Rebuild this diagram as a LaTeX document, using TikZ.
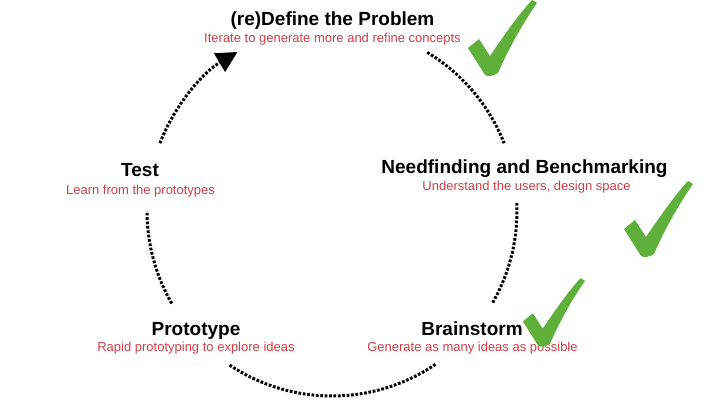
\documentclass[tikz,border=0pt]{standalone}
\usepackage{fontspec}
\setmainfont{Liberation Sans}
\usetikzlibrary{arrows.meta}

\definecolor{notered}{RGB}{208,62,70}
\definecolor{tickgreen}{RGB}{94,176,58}

\begin{document}
\begin{tikzpicture}[
    x=1pt,
    y=1pt,
    stage/.style={anchor=base, inner sep=0pt, font=\fontsize{19}{19}\selectfont\bfseries},
    note/.style={anchor=base, inner sep=0pt, text=notered, font=\fontsize{13}{13}\selectfont},
    flow/.style={line width=3pt, dash pattern=on 2.7pt off 1.7pt},
    checkmark/.pic={
        \fill[tickgreen] (-2,-3) -- (-19,24) -- (-8,33) -- (3,16)
            .. controls (18,38) and (32,58) .. (45,72) -- (50,69)
            .. controls (34,46) and (20,20) .. (11,-1)
            .. controls (6,-4) and (1,-5) .. cycle;
    }
]
\useasboundingbox (0,0) rectangle (720,405);

\coordinate (c) at (332,194);

\node[stage] (define) at (332.5,379) {(re)Define the Problem};
\node[note] (definenote) at (332.5,362.5) {Iterate to generate more and refine concepts};

\node[stage] (need) at (524.5,231.7) {Needfinding and Benchmarking};
\node[note] (neednote) at (526.5,214.3) {Understand the users, design space};

\node[stage] (test) at (140,229) {Test};
\node[note] (testnote) at (140.5,211) {Learn from the prototypes};

\node[stage] (proto) at (196,70) {Prototype};
\node[note] (protonote) at (196,53.3) {Rapid prototyping to explore ideas};

\node[stage] (brain) at (472,70) {Brainstorm};
\node[note] (brainnote) at (472.5,53.3) {Generate as many ideas as possible};

% the cycle
\draw[flow, -{Triangle[length=21pt,width=21pt]}]
    ([shift={(158.5:185)}]c) arc[start angle=158.5, end angle=120.7, radius=185];
\foreach \a/\b in {59/21.5, 2.5/-29.7, -56/-124, 210/180}
    \draw[flow] ([shift={(\a:185)}]c) arc[start angle=\a, end angle=\b, radius=185];

% ticks
\pic at (487,333) {checkmark};
\pic at (643,152) {checkmark};
\pic[scale=0.9] at (540,62) {checkmark};

\end{tikzpicture}
\end{document}
